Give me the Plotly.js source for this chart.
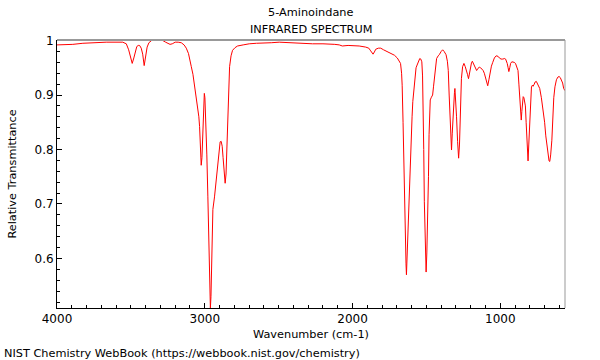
<!DOCTYPE html>
<html>
<head>
<meta charset="utf-8">
<script src="https://cdn.plot.ly/plotly-3.0.1.min.js"></script>
<style>html,body{margin:0;padding:0;background:#fff;}#chart{width:600px;height:360px;}</style>
</head>
<body>
<div id="chart"></div>
<script>
const wavenumber = [4000,3950,3893,3825,3750,3667,3555,3531,3515,3505,3491,3480,3470,3460,3450,3441,3430,3420,3410,3400,3390,3378,3360,3340,3300,3284,3265,3250,3235,3220,3200,3180,3159,3140,3125,3110,3100,3091,3080,3069,3057,3047,3040,3035,3028,3024,3019,3013,3007,3003,2999,2993,2986,2979,2972,2966,2962,2958,2952,2945,2934,2925,2916,2905,2896,2889,2882,2876,2871,2862,2856,2851,2846,2840,2832,2822,2812,2795,2778,2740,2699,2650,2610,2550,2496,2440,2383,2320,2271,2200,2158,2120,2090,2069,2030,1990,1955,1911,1890,1877,1868,1861,1852,1843,1825,1809,1790,1764,1745,1731,1716,1697,1686,1675,1668,1664,1658,1653,1647,1642,1638,1635,1631,1626,1620,1614,1608,1603,1597,1592,1585,1580,1570,1563,1553,1545,1538,1531,1526,1522,1518,1514,1508,1502,1497,1491,1486,1482,1478,1474,1466,1458,1452,1447,1440,1431,1420,1413,1400,1390,1380,1367,1358,1352,1346,1341,1335,1330,1325,1321,1316,1310,1307,1302,1296,1289,1282,1276,1271,1263,1255,1246,1237,1228,1222,1215,1209,1203,1195,1189,1182,1176,1168,1160,1151,1142,1133,1124,1116,1108,1100,1096,1090,1085,1077,1069,1060,1051,1040,1028,1015,1006,995,983,970,964,958,953,947,942,936,930,922,915,906,897,888,880,874,869,864,858,854,850,845,840,835,830,825,821,817,812,807,801,795,789,783,778,770,764,756,745,733,722,711,700,692,684,676,670,665,659,651,645,638,630,620,610,602,594,586,578,571,562];
const transmittance = [0.992,0.992,0.993,0.995,0.996,0.997,0.997,0.994,0.983,0.970,0.958,0.968,0.982,0.989,0.991,0.991,0.986,0.975,0.954,0.970,0.988,0.996,1.000,1.001,1.000,1.000,0.997,0.995,0.993,0.994,0.997,0.997,0.996,0.992,0.986,0.976,0.966,0.952,0.938,0.915,0.900,0.872,0.860,0.842,0.800,0.771,0.785,0.823,0.870,0.903,0.895,0.860,0.790,0.713,0.620,0.540,0.509,0.530,0.640,0.690,0.713,0.740,0.762,0.795,0.814,0.815,0.806,0.785,0.762,0.738,0.755,0.800,0.870,0.915,0.952,0.972,0.982,0.987,0.990,0.992,0.994,0.995,0.995,0.996,0.997,0.996,0.995,0.994,0.994,0.994,0.994,0.993,0.992,0.990,0.991,0.991,0.990,0.988,0.986,0.981,0.977,0.975,0.979,0.984,0.986,0.986,0.983,0.980,0.977,0.975,0.973,0.968,0.964,0.958,0.940,0.918,0.850,0.765,0.690,0.630,0.590,0.570,0.600,0.643,0.700,0.765,0.800,0.827,0.860,0.888,0.913,0.931,0.950,0.955,0.963,0.967,0.966,0.961,0.935,0.888,0.800,0.704,0.620,0.575,0.610,0.673,0.750,0.827,0.875,0.891,0.896,0.900,0.915,0.931,0.950,0.967,0.972,0.974,0.980,0.983,0.980,0.974,0.962,0.945,0.900,0.857,0.820,0.799,0.830,0.857,0.880,0.905,0.912,0.895,0.860,0.815,0.784,0.810,0.866,0.930,0.952,0.958,0.952,0.945,0.938,0.930,0.940,0.950,0.959,0.962,0.958,0.953,0.948,0.945,0.949,0.951,0.950,0.948,0.945,0.940,0.930,0.926,0.920,0.917,0.928,0.943,0.953,0.960,0.968,0.972,0.971,0.968,0.966,0.966,0.967,0.966,0.963,0.958,0.950,0.943,0.950,0.958,0.961,0.961,0.960,0.958,0.952,0.945,0.920,0.897,0.870,0.854,0.870,0.890,0.897,0.895,0.890,0.880,0.850,0.825,0.800,0.779,0.810,0.850,0.890,0.915,0.918,0.916,0.920,0.924,0.925,0.920,0.912,0.895,0.876,0.850,0.825,0.805,0.785,0.779,0.778,0.790,0.817,0.860,0.895,0.915,0.928,0.933,0.934,0.932,0.928,0.922,0.912,0.908];
const titleLines = ["5-Aminoindane", "INFRARED SPECTRUM"];
const xTitle = "Wavenumber (cm-1)";
const yTitle = "Relative Transmittance";
const footer = "NIST Chemistry WebBook (https://webbook.nist.gov/chemistry)";

const font = {family: "DejaVu Sans, sans-serif", size: 12, color: "#000"};
const textFont = {family: "DejaVu Sans, sans-serif", size: 11.3, color: "#000"};

const trace = {
  x: wavenumber, y: transmittance, type: "scatter", mode: "lines",
  line: {color: "#ff0000", width: 1}, hoverinfo: "skip"
};

const layout = {
  width: 600, height: 360,
  margin: {l: 57, r: 35, t: 40, b: 52},
  paper_bgcolor: "#fff", plot_bgcolor: "#fff",
  font: font, showlegend: false,
  xaxis: {
    range: [4000, 562], showgrid: false, zeroline: false,
    showline: true, linecolor: "#000", linewidth: 1,
    ticks: "inside", ticklen: 5, tickcolor: "#000",
    tickmode: "array", tickvals: [4000, 3000, 2000, 1000],
    minor: {ticks: "inside", ticklen: 3, tickcolor: "#000", dtick: 100, tick0: 0},
    tickfont: font,
    title: {text: xTitle, font: textFont, standoff: 4}
  },
  yaxis: {
    range: [0.509, 1.001], showgrid: false, zeroline: false,
    showline: true, linecolor: "#000", linewidth: 1,
    ticks: "inside", ticklen: 5, tickcolor: "#000",
    tickmode: "array", tickvals: [0.6, 0.7, 0.8, 0.9, 1], ticktext: ["0.6","0.7","0.8","0.9","1"],
    minor: {ticks: "inside", ticklen: 3, tickcolor: "#000", dtick: 0.02, tick0: 0},
    tickfont: font,
    title: {text: yTitle, font: textFont, standoff: 15}
  },
  shapes: [
    {type: "line", xref: "paper", yref: "paper", x0: 0, x1: 1, y0: 1, y1: 1, line: {color: "#999", width: 2}},
    {type: "line", xref: "paper", yref: "paper", x0: 1, x1: 1, y0: 0, y1: 1, line: {color: "#999", width: 1}}
  ],
  annotations: [
    {text: titleLines[0], xref: "paper", yref: "paper", x: 0.5, y: 1, yshift: 28, xanchor: "center", yanchor: "middle", showarrow: false, font: textFont},
    {text: titleLines[1], xref: "paper", yref: "paper", x: 0.5, y: 1, yshift: 11, xanchor: "center", yanchor: "middle", showarrow: false, font: textFont},
    {text: footer, xref: "paper", yref: "paper", x: 0, y: 0, xshift: -55, yshift: -45, xanchor: "left", yanchor: "middle", showarrow: false, font: textFont}
  ]
};

Plotly.newPlot("chart", [trace], layout, {staticPlot: true, displayModeBar: false});
</script>
</body>
</html>
